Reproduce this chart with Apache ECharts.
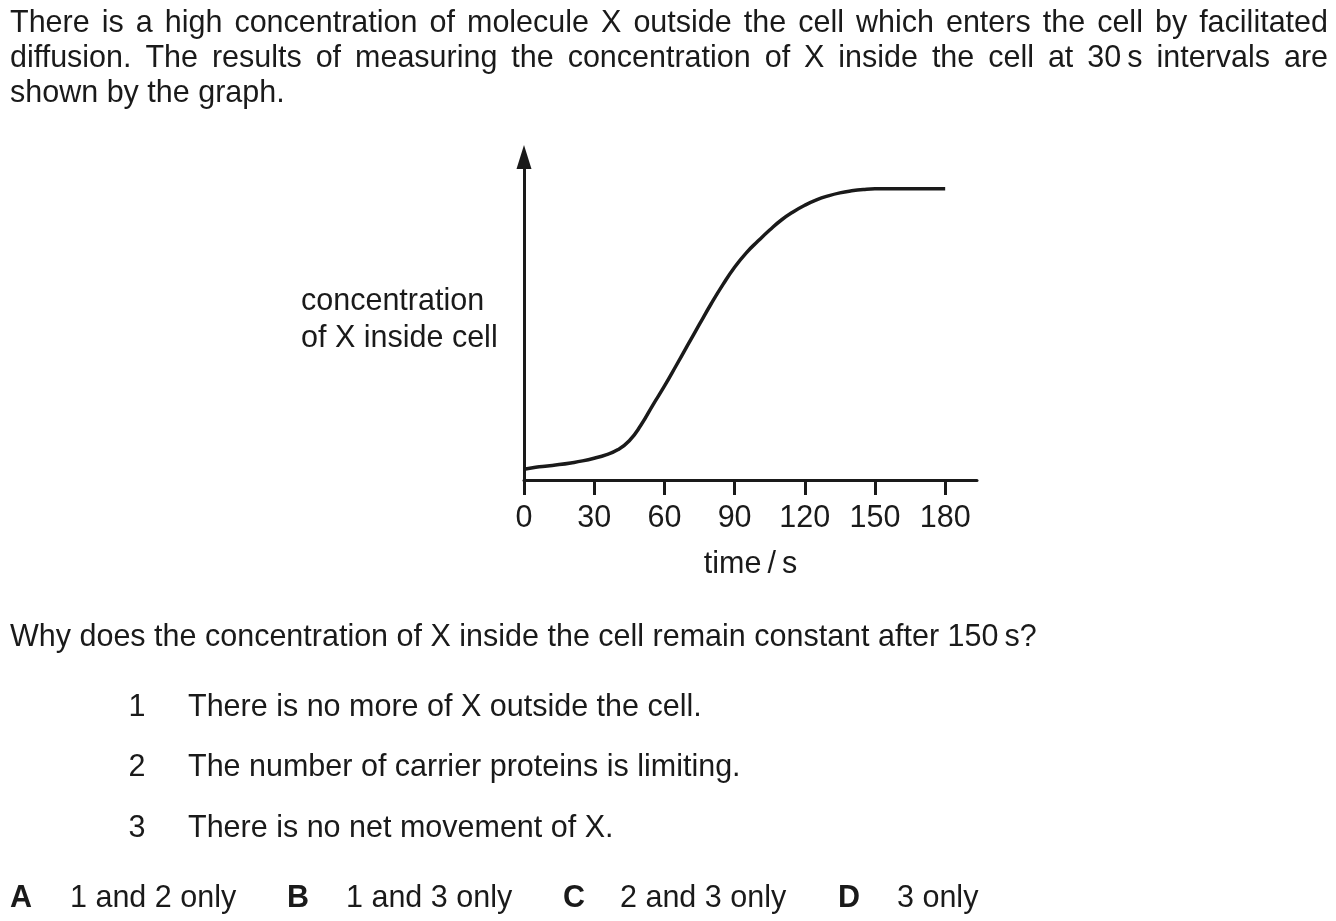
<!DOCTYPE html>
<html><head><meta charset="utf-8">
<script src="https://cdn.jsdelivr.net/npm/echarts@6/dist/echarts.min.js"></script>
<style>html,body{margin:0;padding:0;background:#fff}#c{width:1336px;height:921px}</style>
</head><body><div id="c"></div>
<script>
// ---- data ----
const timeTicks = [0, 30, 60, 90, 120, 150, 180];
const times = [0, 5, 10, 15, 20, 25, 30, 35, 40, 45, 50, 55, 60, 65, 70, 75, 80, 85, 90, 95, 100, 105, 110, 115, 120, 125, 130, 135, 140, 145, 150, 160, 170, 180];
const conc  = [3.2, 3.8, 4.2, 4.6, 5.1, 5.7, 6.5, 7.5, 9.0, 11.7, 16.4, 22.3, 28.0, 34.1, 40.3, 46.5, 52.6, 58.3, 63.5, 67.8, 71.3, 74.6, 77.6, 80.0, 82.0, 83.6, 84.8, 85.7, 86.3, 86.7, 86.9, 86.9, 86.9, 86.9];
const introLines = [
  "There is a high concentration of molecule X outside the cell which enters the cell by facilitated",
  "diffusion. The results of measuring the concentration of X inside the cell at 30\u2009s intervals are",
  "shown by the graph."
];
const yAxisLabelLines = ["concentration", "of X inside cell"];
const xAxisName = "time\u2009/\u2009s";
const questionText = "Why does the concentration of X inside the cell remain constant after 150\u2009s?";
const statementNums = ["1", "2", "3"];
const statements = [
  "There is no more of X outside the cell.",
  "The number of carrier proteins is limiting.",
  "There is no net movement of X."
];
const answerKeys = ["A", "B", "C", "D"];
const answerTexts = ["1 and 2 only", "1 and 3 only", "2 and 3 only", "3 only"];

// ---- layout ----
const FONT_FAMILY = '"Liberation Sans", Arial, sans-serif';
const FS = 30.5;
const INK = '#1a1a1a';
const fontStr = FS + 'px ' + FONT_FAMILY;

const mctx = document.createElement('canvas').getContext('2d');
mctx.font = fontStr;

function textEl(str, x, y, opts) {
  opts = opts || {};
  return {
    type: 'text', x: x, y: y, silent: true,
    style: {
      text: str, fill: INK,
      font: (opts.bold ? 'bold ' : '') + fontStr,
      align: opts.align || 'left', verticalAlign: 'middle'
    }
  };
}

const graphics = [];
// justified intro lines
const lineLeft = 10, lineRight = 1328;
const introY = [23.5, 58.5, 94];
introLines.forEach((ln, i) => {
  if (i < introLines.length - 1) {
    const words = ln.split(' ');
    const widths = words.map(w => mctx.measureText(w).width);
    const total = widths.reduce((a, b) => a + b, 0);
    const gap = (lineRight - lineLeft - total) / (words.length - 1);
    let x = lineLeft;
    words.forEach((w, k) => {
      graphics.push(textEl(w, x, introY[i]));
      x += widths[k] + gap;
    });
  } else {
    graphics.push(textEl(ln, lineLeft, introY[i]));
  }
});
// y axis label
const yLabY = [302, 339];
yAxisLabelLines.forEach((t, i) => graphics.push(textEl(t, 301, yLabY[i])));
// question
graphics.push(textEl(questionText, 10, 637.5));
// statements
const stY = [707.5, 767.5, 828.5];
statements.forEach((s, i) => {
  graphics.push(textEl(statementNums[i], 137, stY[i], {align: 'center'}));
  graphics.push(textEl(s, 188, stY[i]));
});
// answers
const keyX = [10, 287, 563, 838];
const ansX = [70, 346, 620, 897];
answerKeys.forEach((k, i) => {
  graphics.push(textEl(k, keyX[i], 898.5, {bold: true}));
  graphics.push(textEl(answerTexts[i], ansX[i], 898.5));
});

const chart = echarts.init(document.getElementById('c'), null, {renderer: 'canvas', width: 1336, height: 921});
chart.setOption({
  animation: false,
  backgroundColor: '#ffffff',
  textStyle: {fontFamily: FONT_FAMILY, color: INK},
  grid: {left: 524, right: 359, top: 157, bottom: 441, containLabel: false},
  xAxis: {
    type: 'value', min: 0, max: 193.6,
    name: xAxisName, nameLocation: 'middle', nameGap: 69,
    nameTextStyle: {fontSize: FS, color: INK, fontFamily: FONT_FAMILY},
    axisLine: {show: true, onZero: false, lineStyle: {color: INK, width: 3}},
    axisTick: {show: true, customValues: timeTicks, length: 15, inside: false, lineStyle: {color: INK, width: 3}},
    axisLabel: {show: true, customValues: timeTicks, fontSize: FS, color: INK, margin: 23, fontFamily: FONT_FAMILY},
    splitLine: {show: false}
  },
  yAxis: {
    type: 'value', min: 0, max: 96.4,
    axisLine: {show: true, onZero: false, symbol: ['none', 'triangle'], symbolSize: [15, 24], lineStyle: {color: INK, width: 3}},
    axisTick: {show: false},
    axisLabel: {show: false},
    splitLine: {show: false}
  },
  series: [{
    type: 'line',
    data: times.map((t, i) => [t, conc[i]]),
    smooth: 0.5,
    symbol: 'none',
    lineStyle: {color: INK, width: 3.5}
  }],
  graphic: graphics
});
</script>
</body></html>
